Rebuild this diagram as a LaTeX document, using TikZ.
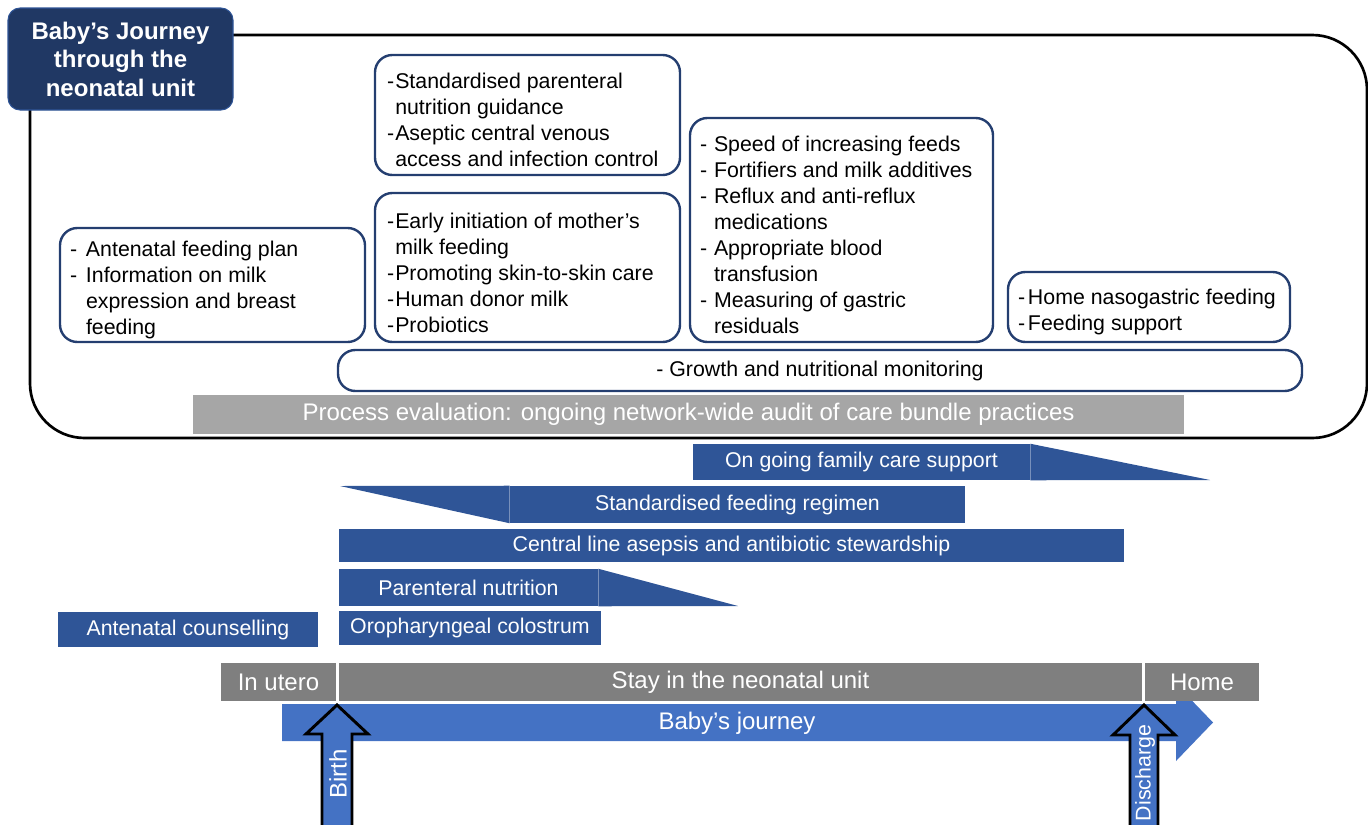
\documentclass[tikz,border=0pt]{standalone}
\usepackage{fontspec}
\setmainfont{Liberation Sans}
\definecolor{navy}{RGB}{32,56,100}
\definecolor{barblue}{RGB}{47,85,151}
\definecolor{lblue}{RGB}{68,114,196}
\definecolor{pgray}{RGB}{166,166,166}
\definecolor{tgray}{RGB}{127,127,127}
\definecolor{bordr}{RGB}{36,62,112}
\newcommand\dashitem[2]{\hangindent=#1\hangafter=1\noindent\makebox[#1][l]{-}#2\par}
\newcommand\dashlist[2]{\begin{minipage}{#1}\vspace*{7.5pt}\raggedright #2\end{minipage}}
\tikzset{
  px/.style args={#1/#2/#3/#4}{at={({(#1+#3)/2},{(#2+#4)/2})},
    minimum width={(#3-#1)*0.75pt}, minimum height={(#4-#2)*0.75pt}},
  frame/.style={draw=black, line width=2pt, rounded corners=41pt, inner sep=0pt},
  titlebox/.style={fill=navy, draw=barblue, line width=0.8pt, rounded corners=9pt, inner sep=0pt,
    text=white, align=center, font=\bfseries\fontsize{18}{21.4}\selectfont},
  box/.style={draw=bordr, fill=white, line width=1.8pt, rounded corners=13pt, inner sep=0pt,
    font=\fontsize{16}{19.5}\selectfont},
  pbar/.style={fill=pgray, inner sep=0pt, text=white, font=\fontsize{18}{21}\selectfont},
  bar/.style={fill=barblue, inner sep=0pt, text=white, font=\fontsize{16}{19}\selectfont},
  tbar/.style={fill=tgray, inner sep=0pt, text=white, font=\fontsize{18}{21}\selectfont},
  uparrow/.style={fill=lblue, draw=black, line width=2.2pt, line join=miter},
  arrowtext/.style={text=white, rotate=90, inner sep=0pt},
}
\begin{document}
\begin{tikzpicture}[x=0.75pt, y=-0.75pt]
\useasboundingbox (0,0) rectangle (1368,825);
\clip (0,0) rectangle (1368,825);

% outer frame and title
\node[frame, px=30/35/1367/438] (frame) {};
\node[titlebox, px=8/8/233/110] (title) {Baby’s Journey\\through the\\neonatal unit};

% content boxes
\node[box, px=60/228/365/342] (antenatal)
  {\dashlist{213.75pt}{\dashitem{12pt}{Antenatal feeding plan}\dashitem{12pt}{Information on milk\newline expression and breast\newline feeding}}};
\node[box, px=375/55/680/175] (pn)
  {\dashlist{210.75pt}{\dashitem{6.2pt}{Standardised parenteral\newline nutrition guidance}\dashitem{6.2pt}{Aseptic central venous\newline access and infection control}}};
\node[box, px=375/193/680/342] (early)
  {\dashlist{210.75pt}{\dashitem{6.2pt}{Early initiation of mother’s\newline milk feeding}\dashitem{6.2pt}{Promoting skin-to-skin care}\dashitem{6.2pt}{Human donor milk}\dashitem{6.2pt}{Probiotics}}};
\node[box, px=690/118/993/342] (speed)
  {\dashlist{212.25pt}{\dashitem{10.5pt}{Speed of increasing feeds}\dashitem{10.5pt}{Fortifiers and milk additives}\dashitem{10.5pt}{Reflux and anti-reflux\newline medications}\dashitem{10.5pt}{Appropriate blood\newline transfusion}\dashitem{10.5pt}{Measuring of gastric\newline residuals}}};
\node[box, px=1008/272/1290/342] (home)
  {\dashlist{196.5pt}{\dashitem{7.5pt}{Home nasogastric feeding}\dashitem{7.5pt}{Feeding support}}};
\node[box, px=338/350/1302/391] (growth) {- Growth and nutritional monitoring};
\node[pbar, px=193/395/1184/434] (process) {Process evaluation: ongoing network-wide audit of care bundle practices};

% care bundle bars
\node[bar, px=693/444/1030/480] (family) {On going family care support};
\fill[barblue] (family.north east) -- (1210,480) -- (family.south east) -- cycle;
\node[bar, px=510/486/965/523] (feeding) {Standardised feeding regimen};
\fill[barblue] (340,486) -- (feeding.north west) -- (feeding.south west) -- cycle;
\node[bar, px=339/529/1124/562] (central) {Central line asepsis and antibiotic stewardship};
\node[bar, px=339/569/598/606] (parenteral) {Parenteral nutrition};
\fill[barblue] (parenteral.north east) -- (738,606) -- (parenteral.south east) -- cycle;
\node[bar, px=58/612/318/647] (counselling) {Antenatal counselling};
\node[bar, px=339/611/601/645] (colostrum) {Oropharyngeal colostrum};

% timeline
\fill[lblue] (282,704) -- (1176,704) -- (1176,684) -- (1213,722.5) -- (1176,761) -- (1176,741) -- (282,741) -- cycle;
\node[text=white, font=\fontsize{18}{21}\selectfont] (journey) at (737,723) {Baby’s journey};
\node[tbar, px=221/663/336/701] (utero) {In utero};
\node[tbar, px=339/663/1142/701] (stay) {Stay in the neonatal unit};
\node[tbar, px=1145/663/1259/701] (homebar) {Home};

\draw[uparrow] (322,835) -- (322,734) -- (306,734) -- (337,705) -- (368,734) -- (352,734) -- (352,835);
\node[arrowtext, font=\fontsize{18}{21}\selectfont] (birth) at (338,774) {Birth};
\draw[uparrow] (1130,835) -- (1130,735) -- (1113,735) -- (1144,705) -- (1175,735) -- (1158,735) -- (1158,835);
\node[arrowtext, font=\fontsize{16}{19}\selectfont] (discharge) at (1145,773) {Discharge};
\end{tikzpicture}
\end{document}
